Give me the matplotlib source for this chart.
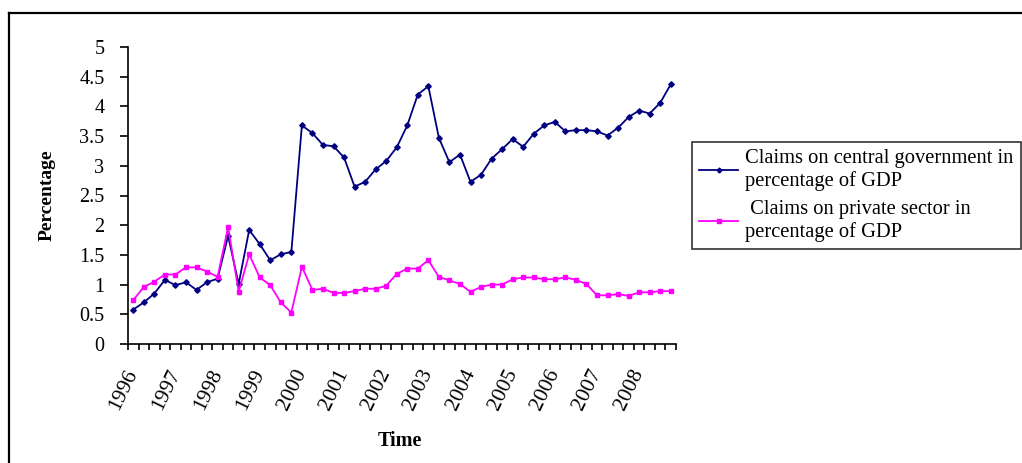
import numpy as np
import matplotlib.pyplot as plt
from matplotlib.lines import Line2D

plt.rcParams['font.family'] = ['Liberation Serif', 'DejaVu Serif']

# quarterly data, 1996Q1 - 2008Q4
years = ['1996', '1997', '1998', '1999', '2000', '2001', '2002',
         '2003', '2004', '2005', '2006', '2007', '2008']
gov = [0.58, 0.70, 0.85, 1.08, 0.99, 1.04, 0.91, 1.04, 1.10, 1.82,
       1.01, 1.92, 1.68, 1.41, 1.51, 1.55, 3.68, 3.55, 3.35, 3.33,
       3.14, 2.65, 2.73, 2.94, 3.08, 3.31, 3.68, 4.20, 4.34, 3.47,
       3.06, 3.19, 2.73, 2.85, 3.12, 3.28, 3.45, 3.32, 3.54, 3.68,
       3.74, 3.58, 3.60, 3.60, 3.58, 3.51, 3.64, 3.82, 3.93, 3.88,
       4.06, 4.37]
priv = [0.74, 0.96, 1.05, 1.17, 1.17, 1.29, 1.29, 1.22, 1.13, 1.97,
        0.88, 1.51, 1.12, 0.99, 0.70, 0.53, 1.30, 0.91, 0.93, 0.86,
        0.86, 0.89, 0.93, 0.93, 0.98, 1.18, 1.27, 1.27, 1.41, 1.13,
        1.07, 1.01, 0.88, 0.96, 1.00, 1.00, 1.09, 1.12, 1.12, 1.09,
        1.09, 1.12, 1.08, 1.01, 0.82, 0.82, 0.84, 0.81, 0.87, 0.87,
        0.89, 0.89]
gov_label = 'Claims on central government in\npercentage of GDP'
priv_label = ' Claims on private sector in\npercentage of GDP'

x = np.arange(len(gov))

fig = plt.figure(figsize=(10.22, 4.63), dpi=100)
ax = fig.add_axes([128 / 1022, 1 - 344 / 463, 548 / 1022, 297 / 463])

ax.plot(x, gov, color='#000080', lw=1.3, marker='D', ms=2.8)
ax.plot(x, priv, color='#FF00FF', lw=1.3, marker='s', ms=2.5)

ax.set_xlim(-0.5, len(gov) - 0.5)
ax.set_ylim(0, 5)
ax.set_yticks(np.arange(0, 5.01, 0.5))
ax.set_yticklabels(['0', '0.5', '1', '1.5', '2', '2.5', '3', '3.5', '4', '4.5', '5'])
ax.tick_params(axis='y', direction='out', length=6, width=1.2, pad=11, labelsize=14.5)

# year labels on every 4th quarter, tick marks between categories
ax.set_xticks(x[::4])
ax.set_xticklabels(years)
ax.set_xticks(np.arange(-0.5, len(gov)), minor=True)
ax.tick_params(axis='x', which='major', length=0, pad=19, labelsize=15.5)
ax.tick_params(axis='x', which='minor', direction='out', length=4.5, width=1.2)
plt.setp(ax.get_xticklabels(), rotation=64, ha='right', va='center',
         rotation_mode='anchor')

for s in ['top', 'right']:
    ax.spines[s].set_visible(False)
ax.spines['left'].set_linewidth(1.2)
ax.spines['bottom'].set_linewidth(1.2)

fig.text(47 / 1022, 1 - 195 / 463, 'Percentage', rotation=90, ha='center',
         va='center', fontsize=14, fontweight='bold')
fig.text(400 / 1022, 1 - 441 / 463, 'Time', ha='center', va='center',
         fontsize=14.5, fontweight='bold')

handles = [Line2D([], [], color='#000080', lw=1.3, marker='D', ms=2.5),
           Line2D([], [], color='#FF00FF', lw=1.3, marker='s', ms=2.2)]
leg = fig.legend(handles, [gov_label, priv_label], loc='upper left',
                 bbox_to_anchor=(692 / 1022, 1 - 142 / 463), fontsize=14.8,
                 frameon=True, fancybox=False, edgecolor='black',
                 handlelength=1.9, handletextpad=0.35, borderpad=0.35,
                 labelspacing=0.4, borderaxespad=0)
for t in leg.get_texts():
    t.set_linespacing(1.22)
leg.get_frame().set_linewidth(1.2)

# outer chart border (runs off the right and bottom edges)
fig.add_artist(Line2D([9 / 1022, 9 / 1022], [0, 1 - 13 / 463], color='black', lw=1.6))
fig.add_artist(Line2D([9 / 1022, 1], [1 - 13 / 463, 1 - 13 / 463], color='black', lw=1.6))

fig.savefig('out.png', dpi=100)
